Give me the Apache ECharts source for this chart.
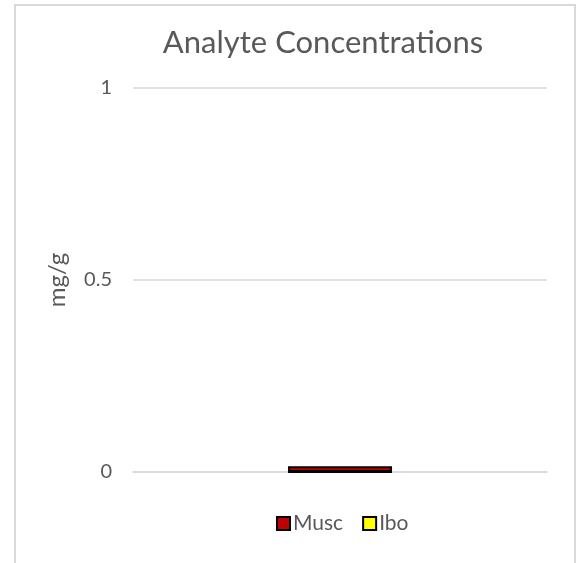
<!DOCTYPE html>
<html>
<head>
<meta charset="utf-8">
<script src="https://cdn.jsdelivr.net/npm/echarts@6/dist/echarts.min.js"></script>
<style>
html,body{margin:0;padding:0;background:#fff;}
#c{width:581px;height:563px;}
</style>
</head>
<body>
<div id="c"></div>
<script>
var categories = [''];
var seriesNames = ['Musc', 'Ibo'];
var muscValues = [0.015];
var iboValues = [0];
var yTicks = [0, 0.5, 1];

var chart = echarts.init(document.getElementById('c'), null, {renderer: 'canvas'});
var font = 'Lato, "Open Sans", sans-serif';
chart.setOption({
  animation: false,
  backgroundColor: '#fff',
  graphic: [{
    type: 'rect', shape: {x: 15, y: 5, width: 560, height: 620},
    style: {fill: 'none', stroke: '#d9d9d9', lineWidth: 2}, silent: true
  }],
  title: {
    text: 'Analyte Concentrations',
    left: 318, top: 22, textAlign: 'center',
    textStyle: {fontFamily: font, fontSize: 31, fontWeight: 'normal', color: '#595959'}
  },
  legend: {
    data: seriesNames,
    bottom: 24, left: 271,
    icon: 'rect',
    itemWidth: 13, itemHeight: 13, itemGap: 19,
    textStyle: {fontFamily: font, fontSize: 21, color: '#595959', padding: [0, 0, 0, -2]}
  },
  grid: {left: 133, right: 34, top: 88, bottom: 91},
  xAxis: {
    type: 'category', data: categories,
    axisLine: {show: true, lineStyle: {color: '#d9d9d9', width: 1.5}},
    axisTick: {show: false}, axisLabel: {show: false}
  },
  yAxis: {
    type: 'value', min: yTicks[0], max: yTicks[yTicks.length - 1], interval: 0.5,
    name: 'mg/g', nameLocation: 'middle', nameGap: 64,
    nameTextStyle: {fontFamily: font, fontSize: 24, color: '#595959'},
    axisLine: {show: false}, axisTick: {show: false},
    axisLabel: {fontFamily: font, fontSize: 20, color: '#595959', margin: 21},
    splitLine: {lineStyle: {color: '#d9d9d9', width: 1.5}}
  },
  series: [
    {
      name: 'Ibo', type: 'bar', data: iboValues, barWidth: 104, barGap: '-100%', z: 1,
      itemStyle: {color: '#ffff00', borderColor: '#000', borderWidth: 2}
    },
    {
      name: 'Musc', type: 'bar', data: muscValues, barWidth: 104, barGap: '-100%', z: 2,
      itemStyle: {color: '#c00000', borderColor: '#000', borderWidth: 2}
    }
  ]
});
</script>
</body>
</html>
